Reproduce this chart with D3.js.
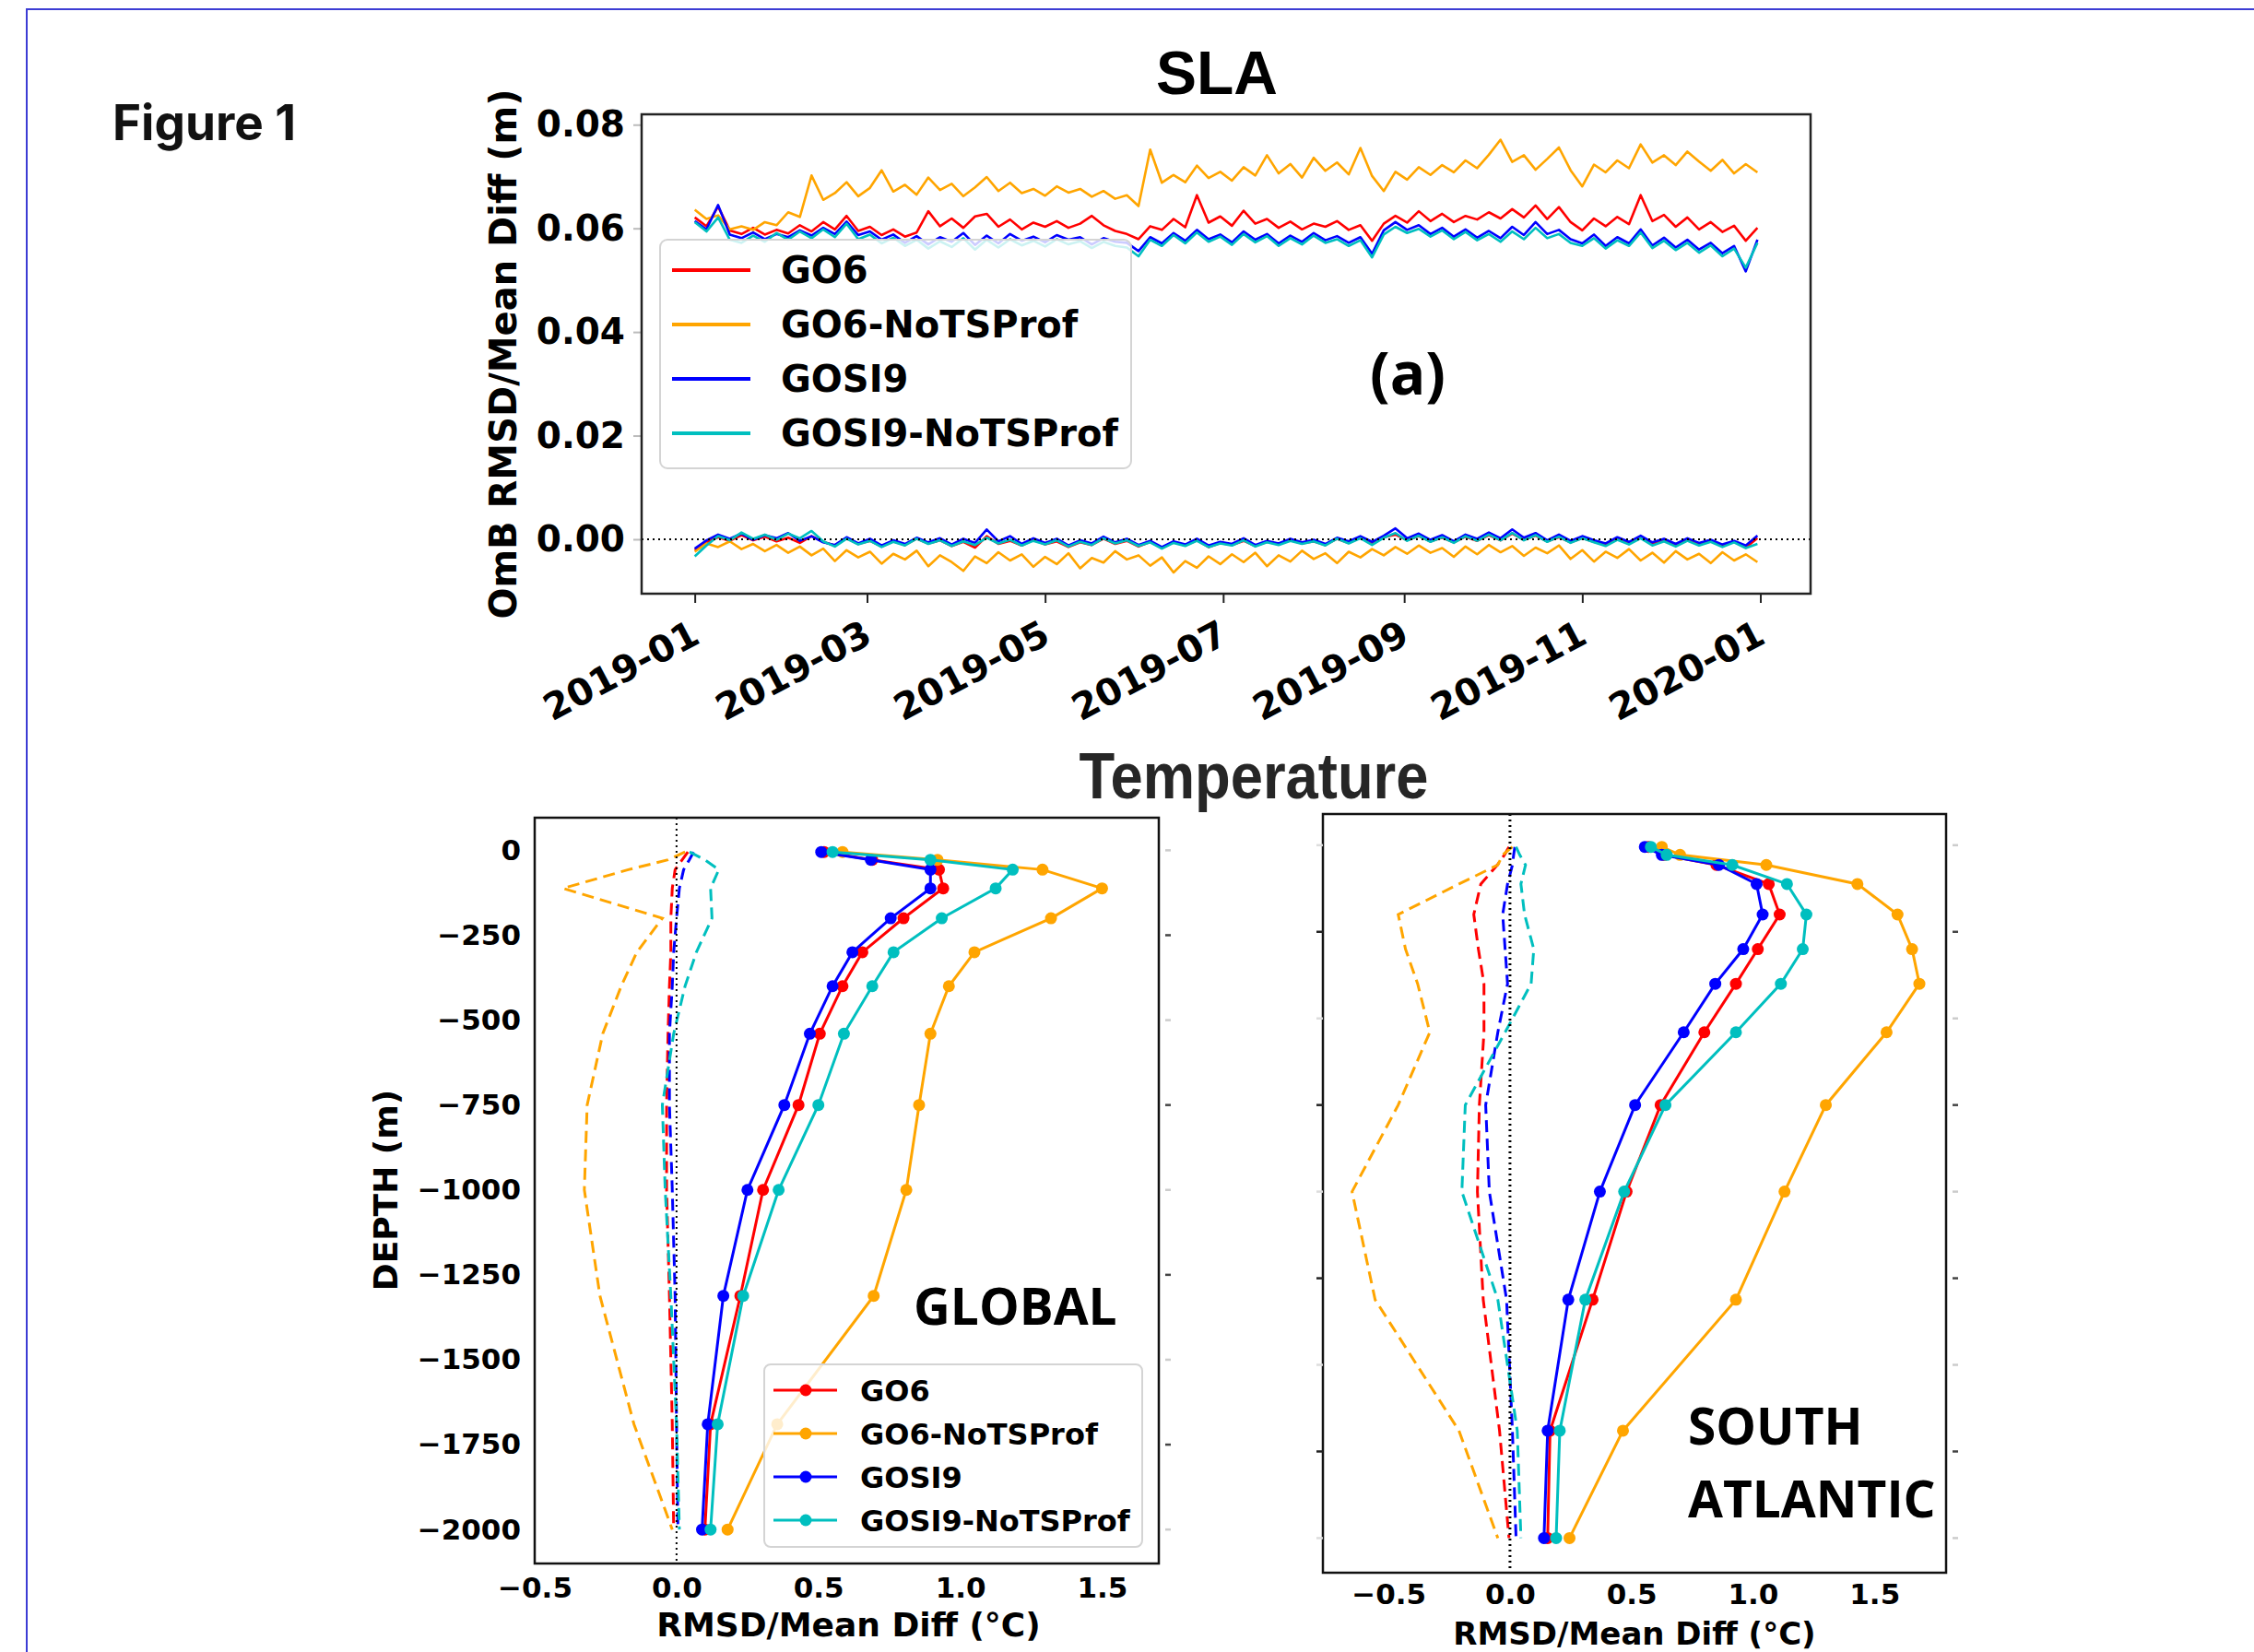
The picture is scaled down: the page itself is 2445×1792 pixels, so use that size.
<!DOCTYPE html>
<html>
<head>
<meta charset="utf-8">
<script src="https://cdn.jsdelivr.net/npm/d3@7"></script>
<style>
  body { margin: 0; background: #fff; }
  svg text { font-family: "DejaVu Sans", sans-serif; font-weight: bold; }
</style>
</head>
<body>
<svg id="fig" width="2445" height="1792"></svg>
<script>
// ---- series ----
const seriesNames = ["GO6", "GO6-NoTSProf", "GOSI9", "GOSI9-NoTSProf"];
const seriesColors = ["#ff0000", "#ffa500", "#0000ff", "#00bfbf"];

// ---- SLA panel (a): values every 4 days from 2019-01-01 ----
const slaStart = "2019-01-01";
const slaStepDays = 4;
const slaXTicks = ["2019-01", "2019-03", "2019-05", "2019-07", "2019-09", "2019-11", "2020-01"];
const slaYTicks = [0, 0.02, 0.04, 0.06, 0.08];

const slaRmsdGO6 = [0.0621,0.0604,0.0642,0.0596,0.0589,0.0601,0.0588,0.0597,0.0590,0.0606,0.0594,0.0612,0.0598,0.0624,0.0595,0.0603,
  0.0587,0.0598,0.0584,0.0592,0.0633,0.0604,0.0619,0.0601,0.0623,0.0628,0.0603,0.0617,0.0598,0.0611,0.0603,0.0614,
  0.0601,0.0609,0.0624,0.0606,0.0595,0.0589,0.0579,0.0604,0.0597,0.0618,0.0602,0.0664,0.0611,0.0623,0.0605,0.0634,
  0.0609,0.0618,0.0601,0.0613,0.0598,0.0609,0.0603,0.0614,0.0597,0.0606,0.0576,0.0609,0.0624,0.0611,0.0633,0.0614,
  0.0628,0.0612,0.0624,0.0617,0.0631,0.0619,0.0637,0.0621,0.0644,0.0618,0.0641,0.0612,0.0596,0.0619,0.0604,0.0622,
  0.0608,0.0664,0.0614,0.0626,0.0603,0.0621,0.0598,0.0612,0.0593,0.0605,0.0576,0.0601];
const slaRmsdGO6No = [0.0636,0.0618,0.0625,0.0598,0.0604,0.0597,0.0612,0.0606,0.0631,0.0622,0.0702,0.0655,0.0668,0.0689,0.0662,0.0678,
  0.0712,0.0671,0.0684,0.0665,0.0698,0.0674,0.0686,0.0662,0.0679,0.0699,0.0672,0.0688,0.0668,0.0676,0.0663,0.0681,
  0.0669,0.0676,0.0661,0.0672,0.0657,0.0664,0.0643,0.0752,0.0688,0.0703,0.0689,0.0721,0.0697,0.0709,0.0692,0.0718,
  0.0702,0.0741,0.0706,0.0724,0.0698,0.0736,0.0711,0.0727,0.0704,0.0755,0.0701,0.0672,0.0709,0.0694,0.0718,0.0703,
  0.0722,0.0708,0.0731,0.0716,0.0742,0.0771,0.0728,0.0741,0.0713,0.0734,0.0756,0.0712,0.0681,0.0723,0.0708,0.0731,
  0.0716,0.0762,0.0727,0.0741,0.0722,0.0748,0.0729,0.0711,0.0732,0.0706,0.0724,0.0708];
const slaRmsdGOSI9 = [0.0614,0.0598,0.0645,0.0588,0.0581,0.0592,0.0579,0.0589,0.0583,0.0596,0.0586,0.0601,0.0589,0.0613,0.0587,0.0594,
  0.0578,0.0588,0.0572,0.0585,0.0569,0.0583,0.0574,0.0591,0.0568,0.0586,0.0571,0.0589,0.0576,0.0584,0.0573,0.0587,
  0.0578,0.0583,0.0569,0.0581,0.0574,0.0572,0.0556,0.0583,0.0571,0.0591,0.0576,0.0597,0.0579,0.0588,0.0573,0.0594,
  0.0578,0.0589,0.0571,0.0586,0.0574,0.0591,0.0577,0.0585,0.0572,0.0583,0.0551,0.0596,0.0612,0.0597,0.0606,0.0589,
  0.0601,0.0584,0.0598,0.0582,0.0595,0.0581,0.0603,0.0587,0.0612,0.0589,0.0597,0.0579,0.0571,0.0588,0.0566,0.0583,
  0.0571,0.0598,0.0567,0.0582,0.0563,0.0578,0.0559,0.0572,0.0552,0.0566,0.0517,0.0578];
const slaRmsdGOSI9No = [0.0612,0.0594,0.0621,0.0578,0.0572,0.0586,0.0574,0.0591,0.0578,0.0594,0.0581,0.0598,0.0583,0.0609,0.0579,0.0588,
  0.0571,0.0582,0.0566,0.0578,0.0561,0.0575,0.0564,0.0581,0.0559,0.0578,0.0563,0.0579,0.0567,0.0576,0.0565,0.0579,
  0.0569,0.0575,0.0562,0.0574,0.0566,0.0563,0.0546,0.0578,0.0566,0.0587,0.0571,0.0592,0.0574,0.0584,0.0568,0.0589,
  0.0573,0.0585,0.0566,0.0581,0.0569,0.0586,0.0572,0.0579,0.0566,0.0577,0.0544,0.0588,0.0603,0.0591,0.0599,0.0584,
  0.0596,0.0579,0.0593,0.0577,0.0589,0.0574,0.0594,0.0579,0.0601,0.0581,0.0589,0.0572,0.0566,0.0581,0.0561,0.0577,
  0.0566,0.0592,0.0562,0.0576,0.0558,0.0572,0.0553,0.0567,0.0546,0.0561,0.0524,0.0572];

const slaMeanGO6 = [-0.0021,-0.0006,0.0004,-0.0003,0.0008,-0.0002,0.0005,-0.0004,0.0003,-0.0007,0.0006,-0.0005,-0.0012,0.0002,-0.0009,-0.0003,
  -0.0014,-0.0004,-0.0011,0.0001,-0.0008,-0.0002,-0.0013,-0.0005,-0.0016,0.0006,-0.0009,-0.0003,-0.0012,-0.0001,-0.0010,-0.0004,
  -0.0015,-0.0006,-0.0011,0.0001,-0.0009,-0.0003,-0.0014,-0.0005,-0.0017,-0.0006,-0.0012,-0.0002,-0.0015,-0.0007,-0.0011,-0.0003,
  -0.0013,-0.0005,-0.0010,-0.0002,-0.0008,-0.0004,-0.0011,0.0001,-0.0007,0.0003,-0.0009,0.0004,0.0009,-0.0002,0.0006,-0.0004,
  0.0003,-0.0006,0.0005,-0.0003,0.0008,-0.0002,0.0011,-0.0001,0.0007,-0.0004,0.0004,-0.0006,0.0002,-0.0005,-0.0011,0.0001,
  -0.0008,0.0003,-0.0009,-0.0003,-0.0012,-0.0002,-0.0010,-0.0004,-0.0013,-0.0005,-0.0016,0.0002];
const slaMeanGO6No = [-0.0024,-0.0008,-0.0015,-0.0004,-0.0019,-0.0009,-0.0023,-0.0011,-0.0026,-0.0014,-0.0031,-0.0018,-0.0042,-0.0021,-0.0035,-0.0024,
  -0.0047,-0.0028,-0.0039,-0.0022,-0.0052,-0.0031,-0.0044,-0.0061,-0.0033,-0.0046,-0.0025,-0.0041,-0.0029,-0.0053,-0.0034,-0.0048,
  -0.0027,-0.0056,-0.0036,-0.0045,-0.0023,-0.0039,-0.0031,-0.0051,-0.0035,-0.0064,-0.0042,-0.0055,-0.0033,-0.0048,-0.0029,-0.0044,
  -0.0026,-0.0052,-0.0031,-0.0043,-0.0022,-0.0038,-0.0027,-0.0046,-0.0024,-0.0035,-0.0019,-0.0031,-0.0015,-0.0028,-0.0012,-0.0026,
  -0.0017,-0.0034,-0.0014,-0.0029,-0.0011,-0.0025,-0.0013,-0.0032,-0.0016,-0.0027,-0.0012,-0.0038,-0.0021,-0.0043,-0.0024,-0.0036,
  -0.0019,-0.0041,-0.0026,-0.0045,-0.0023,-0.0039,-0.0028,-0.0046,-0.0025,-0.0041,-0.0029,-0.0044];
const slaMeanGOSI9 = [-0.0018,-0.0002,0.0009,0.0001,0.0011,-0.0001,0.0008,0.0002,0.0012,-0.0003,0.0006,-0.0006,-0.0011,0.0004,-0.0008,0.0001,
  -0.0012,-0.0002,-0.0009,0.0003,-0.0006,0.0002,-0.0010,0.0001,-0.0007,0.0019,-0.0004,0.0006,-0.0009,0.0002,-0.0007,0.0001,
  -0.0012,-0.0002,-0.0008,0.0005,-0.0006,0.0001,-0.0011,-0.0003,-0.0015,-0.0004,-0.0010,0.0001,-0.0012,-0.0005,-0.0009,0.0002,
  -0.0011,-0.0003,-0.0008,0.0001,-0.0006,-0.0001,-0.0009,0.0003,-0.0004,0.0006,-0.0005,0.0007,0.0021,0.0002,0.0011,-0.0001,
  0.0008,-0.0004,0.0009,0.0001,0.0013,0.0002,0.0019,0.0003,0.0012,-0.0002,0.0009,-0.0003,0.0006,-0.0002,-0.0008,0.0004,
  -0.0005,0.0007,-0.0006,0.0001,-0.0009,0.0002,-0.0007,-0.0001,-0.0010,-0.0003,-0.0012,0.0007];
const slaMeanGOSI9No = [-0.0033,-0.0012,0.0006,-0.0002,0.0013,0.0001,0.0009,-0.0001,0.0011,0.0002,0.0016,-0.0004,-0.0014,0.0001,-0.0010,-0.0003,
  -0.0015,-0.0005,-0.0012,0.0001,-0.0009,-0.0002,-0.0013,-0.0004,-0.0011,0.0003,-0.0008,-0.0001,-0.0012,-0.0003,-0.0010,-0.0002,
  -0.0014,-0.0005,-0.0011,0.0002,-0.0008,-0.0002,-0.0013,-0.0006,-0.0018,-0.0007,-0.0013,-0.0003,-0.0015,-0.0008,-0.0012,-0.0002,
  -0.0014,-0.0006,-0.0011,-0.0003,-0.0009,-0.0004,-0.0012,0.0001,-0.0008,0.0002,-0.0011,0.0003,0.0012,-0.0003,0.0007,-0.0005,
  0.0004,-0.0007,0.0006,-0.0003,0.0009,-0.0002,0.0012,-0.0002,0.0008,-0.0005,0.0005,-0.0007,0.0002,-0.0006,-0.0013,-0.0001,
  -0.0010,0.0002,-0.0012,-0.0004,-0.0014,-0.0003,-0.0012,-0.0005,-0.0015,-0.0006,-0.0017,-0.0009];

// ---- Temperature profiles ----
const depthLevels = [-5, -28, -57, -112, -200, -300, -400, -540, -750, -1000, -1312, -1690, -2000];
const depthTicks = [0, -250, -500, -750, -1000, -1250, -1500, -1750, -2000];
const tempXTicks = [-0.5, 0, 0.5, 1.0, 1.5];

// GLOBAL
const globRmsdGO6 = [0.52, 0.69, 0.925, 0.94, 0.80, 0.655, 0.585, 0.505, 0.43, 0.305, 0.225, 0.12, 0.10];
const globRmsdGO6No = [0.585, 0.92, 1.29, 1.50, 1.32, 1.05, 0.96, 0.895, 0.855, 0.81, 0.695, 0.355, 0.18];
const globRmsdGOSI9 = [0.51, 0.685, 0.895, 0.895, 0.755, 0.62, 0.55, 0.47, 0.38, 0.25, 0.165, 0.11, 0.09];
const globRmsdGOSI9No = [0.55, 0.895, 1.185, 1.125, 0.935, 0.765, 0.69, 0.59, 0.50, 0.36, 0.235, 0.145, 0.12];
const globMeanGO6 = [0.04, 0.02, -0.005, -0.015, -0.02, -0.02, -0.025, -0.03, -0.035, -0.035, -0.025, -0.015, -0.01];
const globMeanGO6No = [0.03, -0.03, -0.17, -0.40, -0.05, -0.14, -0.195, -0.26, -0.315, -0.325, -0.27, -0.15, -0.015];
const globMeanGOSI9 = [0.06, 0.045, 0.025, 0.01, 0.0, -0.01, -0.015, -0.025, -0.025, -0.015, -0.005, 0.0, 0.005];
const globMeanGOSI9No = [0.046, 0.10, 0.149, 0.12, 0.125, 0.07, 0.03, -0.01, -0.05, -0.04, -0.02, 0.0, 0.01];

// SOUTH ATLANTIC
const saRmsdGO6 = [0.57, 0.635, 0.85, 1.065, 1.11, 1.02, 0.93, 0.80, 0.62, 0.48, 0.34, 0.165, 0.155];
const saRmsdGO6No = [0.625, 0.70, 1.055, 1.43, 1.595, 1.655, 1.685, 1.55, 1.30, 1.13, 0.93, 0.465, 0.245];
const saRmsdGOSI9 = [0.555, 0.625, 0.86, 1.015, 1.04, 0.96, 0.845, 0.715, 0.515, 0.37, 0.24, 0.155, 0.14];
const saRmsdGOSI9No = [0.58, 0.645, 0.915, 1.14, 1.22, 1.205, 1.115, 0.93, 0.64, 0.47, 0.31, 0.205, 0.19];
const saMeanGO6 = [-0.004, -0.023, -0.052, -0.12, -0.149, -0.13, -0.107, -0.107, -0.126, -0.134, -0.11, -0.043, -0.004];
const saMeanGO6No = [0.01, -0.03, -0.05, -0.21, -0.46, -0.43, -0.38, -0.33, -0.46, -0.65, -0.555, -0.21, -0.05];
const saMeanGOSI9 = [0.02, 0.015, 0.01, -0.01, -0.03, -0.02, -0.01, -0.05, -0.10, -0.085, -0.014, 0.01, 0.025];
const saMeanGOSI9No = [0.025, 0.04, 0.064, 0.045, 0.06, 0.098, 0.087, -0.02, -0.184, -0.198, -0.05, 0.03, 0.045];

const svg = d3.select("#fig");

// page frame and figure caption
svg.append("rect").attr("x", 29).attr("y", 10).attr("width", 3000).attr("height", 3000)
  .attr("fill", "none").attr("stroke", "#3c3cd4").attr("stroke-width", 2);
svg.append("text").attr("x", 122).attr("y", 152).text("Figure 1")
  .style("font-family", "Inter, 'Noto Sans', sans-serif").style("font-size", "53px").attr("fill", "#111");

// ================= SLA =================
const sla = {left: 696, right: 1964, top: 124, bottom: 644};
const t0 = d3.timeParse("%Y-%m-%d")(slaStart);
const slaDates = slaRmsdGO6.map((_, i) => d3.timeDay.offset(t0, i * slaStepDays));
const dSpan = slaDates[slaDates.length - 1] - slaDates[0];
const xSla = d3.scaleTime()
  .domain([new Date(+slaDates[0] - 0.05 * dSpan), new Date(+slaDates[slaDates.length - 1] + 0.05 * dSpan)])
  .range([sla.left, sla.right]);
const ySla = d3.scaleLinear().domain([-0.0105, 0.082]).range([sla.bottom, sla.top]);

const slaRmsd = [slaRmsdGO6, slaRmsdGO6No, slaRmsdGOSI9, slaRmsdGOSI9No];
const slaMean = [slaMeanGO6, slaMeanGO6No, slaMeanGOSI9, slaMeanGOSI9No];
const slaLine = d3.line().x((d, i) => xSla(slaDates[i])).y(d => ySla(d));

const gSla = svg.append("g");
seriesNames.forEach((name, s) => {
  [slaRmsd[s], slaMean[s]].forEach(vals => {
    gSla.append("path").attr("d", slaLine(vals)).attr("fill", "none")
      .attr("stroke", seriesColors[s]).attr("stroke-width", 2.6).attr("stroke-linejoin", "round");
  });
});
// zero line
gSla.append("line").attr("x1", sla.left).attr("x2", sla.right).attr("y1", ySla(0)).attr("y2", ySla(0))
  .attr("stroke", "#000").attr("stroke-width", 2).attr("stroke-dasharray", "2,4");

// axes
const yAxSla = svg.append("g").attr("transform", `translate(${sla.left},0)`)
  .call(d3.axisLeft(ySla).tickValues(slaYTicks).tickFormat(d3.format(".2f")).tickSize(9).tickPadding(9));
yAxSla.select(".domain").remove();
yAxSla.selectAll("line").attr("stroke", "#bbb").attr("stroke-width", 2);
yAxSla.selectAll("text").style("font-size", "39px").attr("fill", "#000");

const parseMonth = d3.timeParse("%Y-%m");
const xAxSla = svg.append("g").attr("transform", `translate(0,${sla.bottom})`)
  .call(d3.axisBottom(xSla).tickValues(slaXTicks.map(parseMonth)).tickFormat(d3.timeFormat("%Y-%m")).tickSize(10));
xAxSla.select(".domain").remove();
xAxSla.selectAll("line").attr("stroke", "#222").attr("stroke-width", 2);
xAxSla.selectAll("text").style("font-size", "40px").attr("fill", "#000")
  .attr("text-anchor", "end").attr("x", 0).attr("y", 0).attr("dy", "0.75em")
  .attr("transform", "translate(-7,26) rotate(-28)");

svg.append("rect").attr("x", sla.left).attr("y", sla.top)
  .attr("width", sla.right - sla.left).attr("height", sla.bottom - sla.top)
  .attr("fill", "none").attr("stroke", "#222").attr("stroke-width", 2.5);

svg.append("text").attr("transform", "translate(546,384) rotate(-90)").attr("text-anchor", "middle")
  .attr("dy", "0.36em").style("font-size", "40px").text("OmB RMSD/Mean Diff (m)");

svg.append("text").attr("x", 1320).attr("y", 102).attr("text-anchor", "middle")
  .style("font-family", "'Liberation Sans', Arial, sans-serif").style("font-size", "66px").text("SLA");

svg.append("text").attr("x", 1527).attr("y", 428).attr("text-anchor", "middle")
  .style("font-family", "'Open Sans', sans-serif").style("font-size", "64px").text("(a)");

// SLA legend
const legSla = svg.append("g");
legSla.append("rect").attr("x", 716).attr("y", 260).attr("width", 511).attr("height", 248).attr("rx", 8)
  .attr("fill", "#fff").attr("fill-opacity", 0.8).attr("stroke", "#d4d4d4").attr("stroke-width", 2);
seriesNames.forEach((name, s) => {
  const yy = 293 + s * 59;
  legSla.append("line").attr("x1", 729).attr("x2", 814).attr("y1", yy).attr("y2", yy)
    .attr("stroke", seriesColors[s]).attr("stroke-width", 4);
  legSla.append("text").attr("x", 847).attr("y", yy).attr("dy", "0.36em")
    .style("font-size", "40px").text(name);
});

// ================= Temperature =================
svg.append("text").attr("x", 1360).attr("y", 866).attr("text-anchor", "middle")
  .attr("textLength", 379).attr("lengthAdjust", "spacingAndGlyphs")
  .style("font-family", "'Liberation Sans', Arial, sans-serif").style("font-size", "71px")
  .attr("fill", "#262626").text("Temperature");

function drawProfile(p) {
  const x = d3.scaleLinear().domain(p.xDomain).range([p.left, p.right]);
  const y = d3.scaleLinear().domain(p.yDomain).range([p.bottom, p.top]);
  const g = svg.append("g");
  const line = d3.line().x(d => x(d)).y((d, i) => y(depthLevels[i]));

  p.mean.forEach((vals, s) => {
    g.append("path").attr("d", line(vals)).attr("fill", "none")
      .attr("stroke", seriesColors[s]).attr("stroke-width", 3).attr("stroke-dasharray", "13,7");
  });
  p.rmsd.forEach((vals, s) => {
    g.append("path").attr("d", line(vals)).attr("fill", "none")
      .attr("stroke", seriesColors[s]).attr("stroke-width", 3);
    g.selectAll(null).data(vals).join("circle")
      .attr("cx", d => x(d)).attr("cy", (d, i) => y(depthLevels[i])).attr("r", 6.5)
      .attr("fill", seriesColors[s]);
  });
  g.append("line").attr("x1", x(0)).attr("x2", x(0)).attr("y1", p.top).attr("y2", p.bottom)
    .attr("stroke", "#000").attr("stroke-width", p.zeroWidth).attr("stroke-dasharray", "2,4");

  g.append("rect").attr("x", p.left).attr("y", p.top)
    .attr("width", p.right - p.left).attr("height", p.bottom - p.top)
    .attr("fill", "none").attr("stroke", "#111").attr("stroke-width", 2.5);

  // small tick marks on the sides
  depthTicks.forEach((d, i) => {
    g.append("line").attr("x1", p.right + 7).attr("x2", p.right + 13).attr("y1", y(d)).attr("y2", y(d))
      .attr("stroke", i % 2 ? "#444" : "#ccc").attr("stroke-width", 2.5);
    if (!p.yLabels) {
      g.append("line").attr("x1", p.left - 7).attr("x2", p.left).attr("y1", y(d)).attr("y2", y(d))
        .attr("stroke", i % 2 ? "#222" : "#ddd").attr("stroke-width", 2.5);
    }
  });

  const xa = g.append("g").attr("transform", `translate(0,${p.bottom})`)
    .call(d3.axisBottom(x).tickValues(tempXTicks).tickFormat(d3.format(".1f")).tickSize(0).tickPadding(p.xPad));
  xa.select(".domain").remove();
  xa.selectAll("text").style("font-size", "31px").attr("fill", "#000");

  if (p.yLabels) {
    const ya = g.append("g").attr("transform", `translate(${p.left},0)`)
      .call(d3.axisLeft(y).tickValues(depthTicks).tickFormat(d3.format("d")).tickSize(0).tickPadding(15));
    ya.select(".domain").remove();
    ya.selectAll("text").style("font-size", "31px").attr("fill", "#000");
  }

  g.append("text").attr("x", (p.left + p.right) / 2 + p.xLabelShift).attr("y", p.xLabelY)
    .attr("text-anchor", "middle").style("font-size", p.xLabelSize + "px").text("RMSD/Mean Diff (°C)");

  p.region.forEach((t, k) => {
    g.append("text").attr("x", p.regionX).attr("y", p.regionY + k * 79)
      .style("font-family", "'Open Sans', sans-serif").style("font-size", "55px").text(t);
  });

  if (p.legend) {
    const lg = g.append("g");
    lg.append("rect").attr("x", 829).attr("y", 1480).attr("width", 410).attr("height", 198).attr("rx", 7)
      .attr("fill", "#fff").attr("fill-opacity", 0.8).attr("stroke", "#d4d4d4").attr("stroke-width", 2);
    seriesNames.forEach((name, s) => {
      const yy = 1508 + s * 47;
      lg.append("line").attr("x1", 839).attr("x2", 908).attr("y1", yy).attr("y2", yy)
        .attr("stroke", seriesColors[s]).attr("stroke-width", 3);
      lg.append("circle").attr("cx", 874).attr("cy", yy).attr("r", 6.5).attr("fill", seriesColors[s]);
      lg.append("text").attr("x", 933).attr("y", yy).attr("dy", "0.36em")
        .style("font-size", "32px").text(name);
    });
  }
}

drawProfile({
  left: 580, right: 1257, top: 887, bottom: 1696,
  xDomain: [-0.5, 1.7], yDomain: [-2100, 96],
  rmsd: [globRmsdGO6, globRmsdGO6No, globRmsdGOSI9, globRmsdGOSI9No],
  mean: [globMeanGO6, globMeanGO6No, globMeanGOSI9, globMeanGOSI9No],
  yLabels: true, xPad: 15, xLabelY: 1775, xLabelSize: 36, xLabelShift: 2, zeroWidth: 2,
  region: ["GLOBAL"], regionX: 991, regionY: 1437, legend: true
});
drawProfile({
  left: 1435, right: 2111, top: 883, bottom: 1706,
  xDomain: [-0.77, 1.795], yDomain: [-2100, 90],
  rmsd: [saRmsdGO6, saRmsdGO6No, saRmsdGOSI9, saRmsdGOSI9No],
  mean: [saMeanGO6, saMeanGO6No, saMeanGOSI9, saMeanGOSI9No],
  yLabels: false, xPad: 12, xLabelY: 1784, xLabelSize: 34, xLabelShift: 0, zeroWidth: 3,
  region: ["SOUTH", "ATLANTIC"], regionX: 1831, regionY: 1567, legend: false
});

svg.append("text").attr("transform", "translate(418,1291) rotate(-90)").attr("text-anchor", "middle")
  .attr("dy", "0.36em").style("font-size", "36px").text("DEPTH (m)");
</script>
</body>
</html>
